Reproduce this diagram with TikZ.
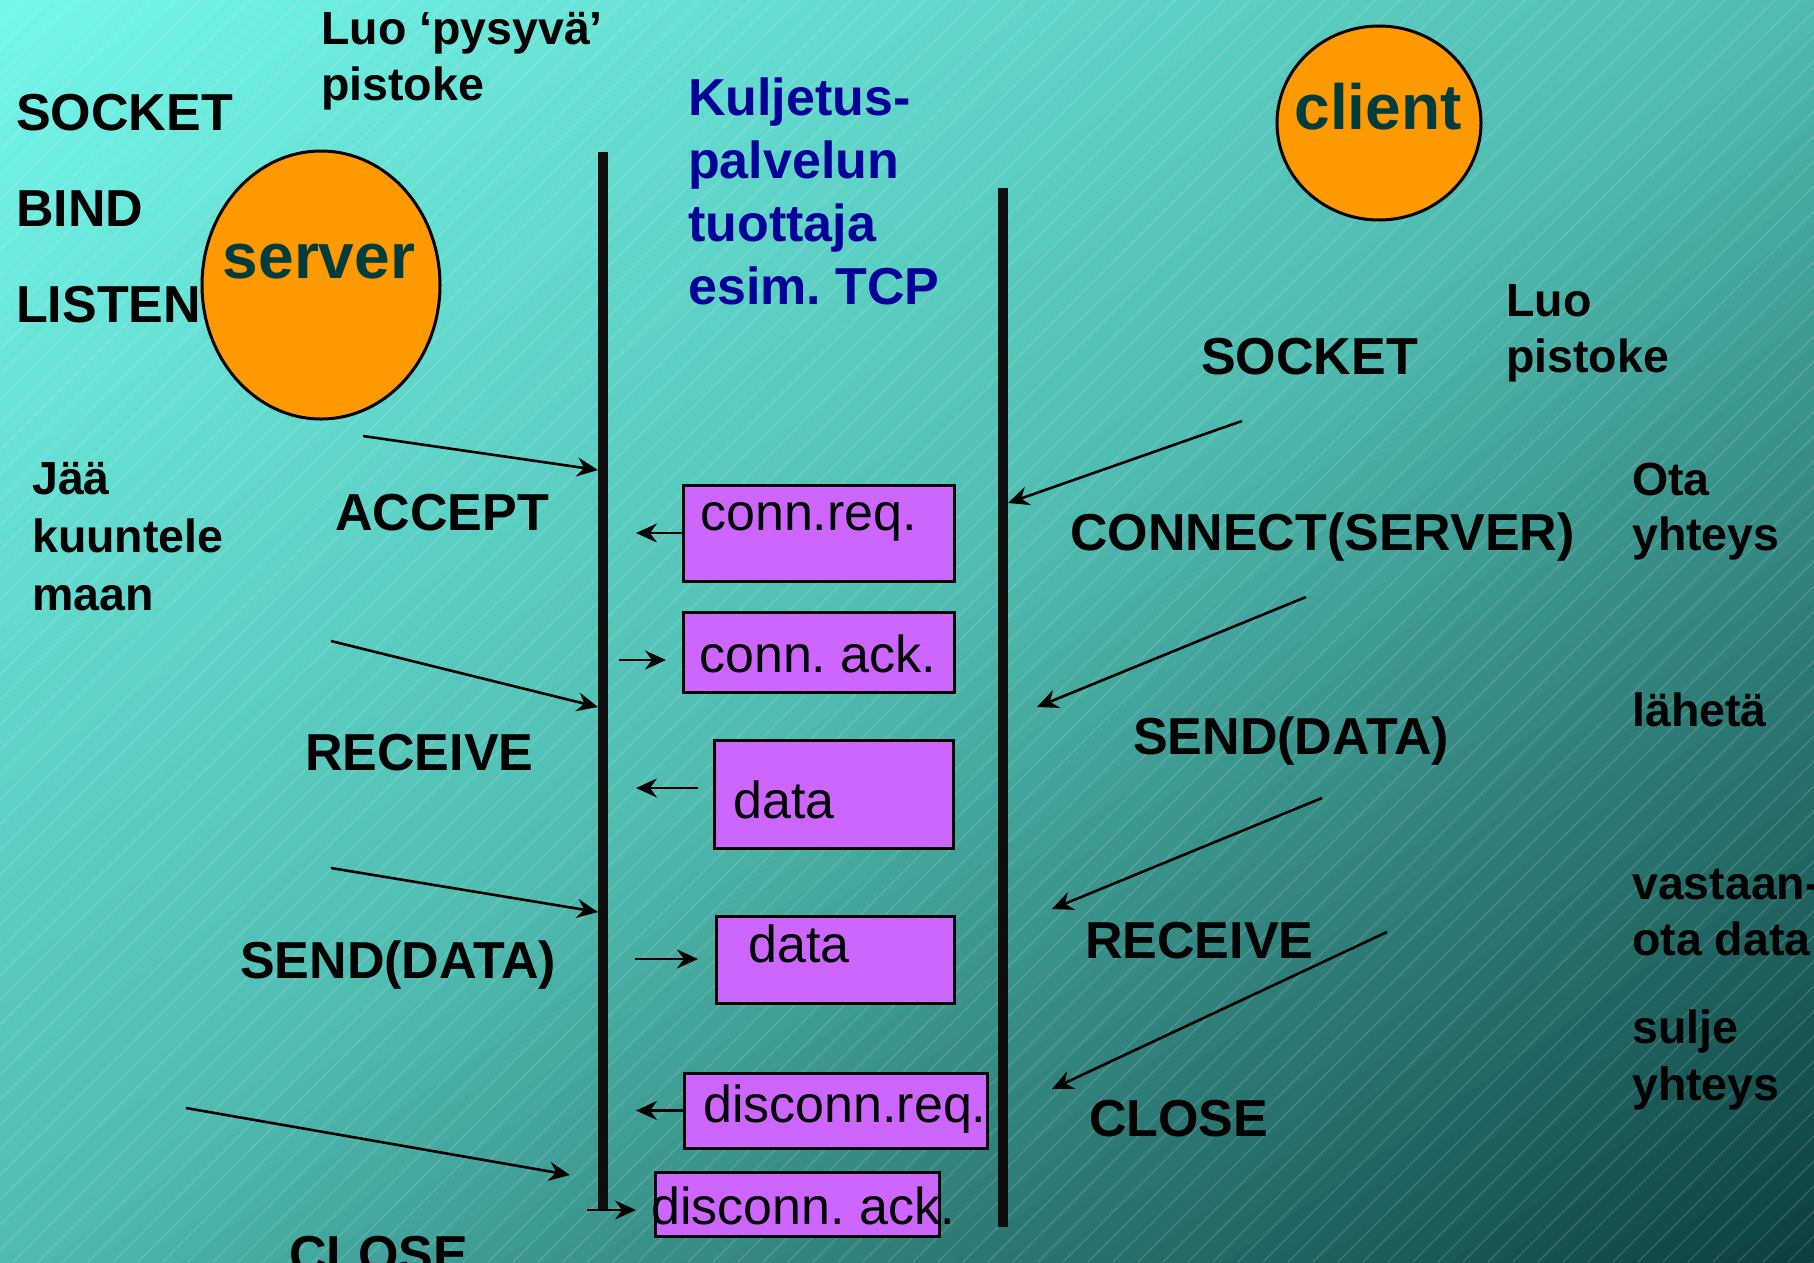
\documentclass[tikz,border=0pt]{standalone}
\usepackage{fontspec}
\setmainfont{Liberation Sans}
\usetikzlibrary{arrows.meta,shapes.geometric}
\frenchspacing
\definecolor{bgA}{HTML}{74F7EA}
\definecolor{bgB}{HTML}{50BCB0}
\definecolor{bgC}{HTML}{0C3E3E}
\definecolor{boxfill}{HTML}{CC66FF}
\definecolor{blobfill}{HTML}{FF9900}
\definecolor{blobtxtc}{HTML}{003C3C}
\definecolor{tcpblue}{HTML}{000099}
\tikzset{
  big/.style={font=\fontsize{52}{60}\selectfont\bfseries, inner sep=0pt, anchor=base west, text=black},
  small/.style={font=\fontsize{46.5}{56}\selectfont\bfseries, inner sep=0pt, anchor=base west, align=left, text=black},
  tcplabel/.style={font=\fontsize{52}{63}\selectfont\bfseries, inner sep=0pt, anchor=base west, align=left, text=tcpblue},
  msgbox/.style={draw=black, line width=3pt, fill=boxfill, anchor=north west, inner sep=0pt, outer sep=0pt},
  msgtext/.style={font=\fontsize{52}{60}\selectfont, inner sep=0pt, anchor=base west, text=black},
  blob/.style={ellipse, draw=black, line width=3pt, fill=blobfill, inner sep=0pt},
  blobtxt/.style={font=\fontsize{64}{70}\selectfont\bfseries, text=blobtxtc, inner sep=0pt, anchor=base},
  lifeline/.style={line width=10pt, draw=black!95},
  arr/.style={line width=2.6pt, -{Stealth[length=21pt,width=19pt,inset=7pt]}},
  stripe/.style={draw=white, opacity=0.16, line width=1.2pt}
}
\begin{document}
\begin{tikzpicture}[x=1pt,y=-1pt]
\useasboundingbox (0,0) rectangle (1814,1262);
% background gradient and stripes
\begin{scope}
\clip (0,0) rectangle (1814,1262);
\foreach \i in {0,...,79}{
  \pgfmathsetmacro{\sa}{2*\i/80}
  \pgfmathsetmacro{\sb}{2*(\i+1)/80+0.01}
  \pgfmathsetmacro{\tm}{(\i+0.5)/80}
  \pgfmathtruncatemacro{\flag}{\tm<0.5}
  \ifnum\flag=1
    \pgfmathsetmacro{\pc}{\tm*200}\colorlet{bandc}{bgB!\pc!bgA}
  \else
    \pgfmathsetmacro{\pc}{(\tm-0.5)*200}\colorlet{bandc}{bgC!\pc!bgB}
  \fi
  \fill[bandc] (\sa*1814,0) -- (0,\sa*1262) -- (0,\sb*1262) -- (\sb*1814,0) -- cycle;
}
\foreach \k in {-1262,-1237,...,1814}
  \draw[stripe] (\k,1262) -- (\k+1262,0);
\end{scope}

% left (server) side texts (multi-line nodes are anchored at the last line's baseline)
\node[small] (luo1) at (321,100) {Luo ‘pysyvä’\\pistoke};
\node[big] (sock1) at (16,130) {SOCKET};
\node[big] (bind) at (16,226) {BIND};
\node[big] (listen) at (16,322) {LISTEN};
\node[blob, minimum width=238pt, minimum height=268pt] (server) at (321,285) {};
\node[blobtxt] (servertxt) at (319,278) {server};
\node[small, font=\fontsize{46.5}{58}\selectfont\bfseries] (jaa) at (32,610) {Jää\\kuuntele\\maan};
\node[big] (accept) at (335,530) {ACCEPT};
\node[big] (recv1) at (305,770) {RECEIVE};
\node[big] (send1) at (240,978) {SEND(DATA)};
\node[big] (close1) at (289,1272) {CLOSE};

% transport provider
\node[tcplabel] (tcp) at (688,304) {Kuljetus-\\palvelun\\tuottaja\\esim. TCP};
\coordinate (LT) at (603,152);
\coordinate (LB) at (603,1210);
\coordinate (RT) at (1003,188);
\coordinate (RB) at (1003,1227);
\draw[lifeline] (LT) -- (LB);
\draw[lifeline] (RT) -- (RB);

% client side
\node[blob, minimum width=204pt, minimum height=194pt] (client) at (1379,123) {};
\node[blobtxt] (clienttxt) at (1378,129) {client};
\node[small] (luo2) at (1506,372) {Luo\\pistoke};
\node[big] (sock2) at (1201,374) {SOCKET};
\node[big] (connect) at (1070,550) {CONNECT(SERVER)};
\node[small, font=\fontsize{46.5}{55}\selectfont\bfseries] (ota) at (1632,550) {Ota\\yhteys};
\node[big] (send2) at (1133,754) {SEND(DATA)};
\node[small] (laheta) at (1632,726) {lähetä};
\node[big] (recv2) at (1085,958) {RECEIVE};
\node[small] (vast) at (1632,955) {vastaan-\\ota data};
\node[big] (close2) at (1089,1136) {CLOSE};
\node[small, font=\fontsize{46.5}{57}\selectfont\bfseries] (sulje) at (1632,1100) {sulje\\yhteys};

% message boxes
\node[msgbox, minimum width=271pt, minimum height=96pt] (creqbox) at (683,485) {};
\node[msgtext] (creq) at (700,530) {conn.req.};
\node[msgbox, minimum width=271pt, minimum height=80pt] (cackbox) at (683,612) {};
\node[msgtext] (cack) at (699,672) {conn. ack.};
\node[msgbox, minimum width=239pt, minimum height=108pt] (data1box) at (714,740) {};
\node[msgtext] (data1) at (733,818) {data};
\node[msgbox, minimum width=238pt, minimum height=87pt] (data2box) at (716,916) {};
\node[msgtext] (data2) at (748,962) {data};
\node[msgbox, minimum width=303pt, minimum height=75pt] (dreqbox) at (684,1073) {};
\node[msgtext] (dreq) at (703,1122) {disconn.req.};
\node[msgbox, minimum width=284pt, minimum height=64pt] (dackbox) at (655,1172) {};
\node[msgtext] (dack) at (651,1224) {disconn. ack.};

% short message arrows
\coordinate (creqtip) at (636,533);
\coordinate (cacktail) at (619,660);
\coordinate (cacktip) at (666,660);
\coordinate (d1tail) at (698,788);
\coordinate (d1tip) at (636,788);
\coordinate (d2tail) at (635,959);
\coordinate (d2tip) at (698,959);
\coordinate (dreqtip) at (636,1110.5);
\coordinate (dacktail) at (587,1210);
\coordinate (dacktip) at (636,1210);
\draw[arr] (creqbox.west) -- (creqtip);
\draw[arr] (cacktail) -- (cacktip);
\draw[arr] (d1tail) -- (d1tip);
\draw[arr] (d2tail) -- (d2tip);
\draw[arr] (dreqbox.west) -- (dreqtip);
\draw[arr] (dacktail) -- (dacktip);

% server call arrows
\coordinate (sa1) at (363,436);  \coordinate (sb1) at (598,470);
\coordinate (sa2) at (331,641);  \coordinate (sb2) at (598,707);
\coordinate (sa3) at (331,868);  \coordinate (sb3) at (598,912);
\coordinate (sa4) at (186,1108); \coordinate (sb4) at (570,1175);
\draw[arr] (sa1) -- (sb1);
\draw[arr] (sa2) -- (sb2);
\draw[arr] (sa3) -- (sb3);
\draw[arr] (sa4) -- (sb4);

% client call arrows
\coordinate (ca1) at (1242,421);  \coordinate (cb1) at (1008,503);
\coordinate (ca2) at (1306,597);  \coordinate (cb2) at (1037,707);
\coordinate (ca3) at (1322,798);  \coordinate (cb3) at (1052,909);
\coordinate (ca4) at (1387,932);  \coordinate (cb4) at (1052,1089);
\draw[arr] (ca1) -- (cb1);
\draw[arr] (ca2) -- (cb2);
\draw[arr] (ca3) -- (cb3);
\draw[arr] (ca4) -- (cb4);
\end{tikzpicture}
\end{document}
